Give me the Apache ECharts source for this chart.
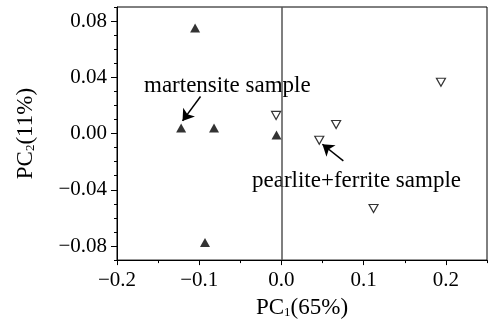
<!DOCTYPE html>
<html>
<head>
<meta charset="utf-8">
<script src="https://cdn.jsdelivr.net/npm/echarts@6/dist/echarts.min.js"></script>
<style>
  html, body { margin: 0; padding: 0; background: #fff; }
  #chart { width: 489px; height: 324px; }
</style>
</head>
<body>
<div id="chart"></div>
<script>
// martensite samples (filled up-triangles)
const martX = [-0.105, -0.122, -0.082, -0.093, -0.006];
const martY = [0.075, 0.004, 0.004, -0.0775, -0.001];
// pearlite+ferrite samples (open down-triangles)
const pfX = [-0.0065, 0.0665, 0.046, 0.194, 0.112];
const pfY = [0.0129, 0.0064, -0.0048, 0.0365, -0.0533];

const xTicks = [-0.2, -0.1, 0.0, 0.1, 0.2];
const yTicks = [-0.08, -0.04, 0.0, 0.04, 0.08];

// annotation arrows, tail -> head, in data units
const martArrow = [[-0.0984, 0.0263], [-0.1203, 0.009]];
const pfArrow = [[0.0753, -0.0194], [0.0498, -0.0076]];

const font = 'Liberation Serif';
const fmt = (d) => (v) => (v < 0 ? '\u2212' : '') + Math.abs(v).toFixed(d);

const zip = (xs, ys) => xs.map((x, i) => [x, ys[i]]);

const chart = echarts.init(document.getElementById('chart'));
chart.setOption({
  animation: false,
  grid: {
    left: 117, right: 2, top: 7, bottom: 58,
    show: true, borderColor: '#000', borderWidth: 1
  },
  xAxis: [
    {
      type: 'value', min: -0.2, max: 0.25,
      name: '{a|PC}{s|1}{a|(65%)}',
      nameLocation: 'middle', nameGap: 30,
      nameTextStyle: {
        rich: {
          a: { fontFamily: font, fontSize: 23, color: '#000', verticalAlign: 'bottom' },
          s: { fontFamily: font, fontSize: 13, color: '#000', verticalAlign: 'bottom' }
        }
      },
      axisLine: { show: true, onZero: false, lineStyle: { color: '#000', width: 1 } },
      axisTick: { show: true, length: 5, customValues: xTicks, lineStyle: { color: '#000' } },
      axisLabel: {
        customValues: xTicks, formatter: fmt(1), margin: 10,
        fontFamily: font, fontSize: 21, color: '#000'
      },
      splitLine: { show: false }
    },
    {
      type: 'value', min: -0.2, max: 0.25, interval: 0.05, position: 'bottom',
      axisLine: { show: false, onZero: false },
      axisTick: { show: true, length: 3, lineStyle: { color: '#000' } },
      axisLabel: { show: false },
      splitLine: { show: false }
    }
  ],
  yAxis: [
    {
      type: 'value', min: -0.09, max: 0.09,
      name: '{a|PC}{s|2}{a|(11%)}',
      nameLocation: 'middle', nameGap: 80,
      nameTextStyle: {
        rich: {
          a: { fontFamily: font, fontSize: 23, color: '#000', verticalAlign: 'bottom' },
          s: { fontFamily: font, fontSize: 13, color: '#000', verticalAlign: 'bottom' }
        }
      },
      axisLine: { show: true, onZero: false, lineStyle: { color: '#000', width: 1 } },
      axisTick: { show: true, length: 6, customValues: yTicks, lineStyle: { color: '#000' } },
      axisLabel: {
        customValues: yTicks, formatter: fmt(2), margin: 10,
        fontFamily: font, fontSize: 21, color: '#000'
      },
      splitLine: { show: false }
    },
    {
      type: 'value', min: -0.09, max: 0.09, interval: 0.01, position: 'left',
      axisLine: { show: false, onZero: false },
      axisTick: { show: true, length: 3, lineStyle: { color: '#000' } },
      axisLabel: { show: false },
      splitLine: { show: false }
    }
  ],
  series: [
    {
      name: 'martensite sample',
      type: 'scatter',
      data: zip(martX, martY),
      symbol: 'triangle',
      symbolSize: [10, 9],
      itemStyle: { color: '#000' },
      z: 5,
      markLine: {
        silent: true,
        symbol: ['none', 'none'],
        label: { show: false },
        lineStyle: { color: '#555', width: 1.5, type: 'solid' },
        data: [{ xAxis: 0 }]
      }
    },
    {
      name: 'pearlite+ferrite sample',
      type: 'scatter',
      data: zip(pfX, pfY),
      symbol: 'triangle',
      symbolRotate: 180,
      symbolSize: [9, 8],
      itemStyle: { color: '#fff', borderColor: '#000', borderWidth: 1.2 },
      z: 5,
      markLine: {
        silent: true,
        symbol: ['none', 'arrow'],
        symbolSize: 11,
        label: { show: false },
        lineStyle: { color: '#000', width: 1.5, type: 'solid' },
        data: [
          [{ coord: martArrow[0] }, { coord: martArrow[1] }],
          [{ coord: pfArrow[0] }, { coord: pfArrow[1] }]
        ]
      }
    }
  ],
  graphic: [
    {
      type: 'text', left: 144, top: 74,
      style: { text: 'martensite sample', font: '23px "Liberation Serif"', fill: '#000' }
    },
    {
      type: 'text', left: 252, top: 169,
      style: { text: 'pearlite+ferrite sample', font: '23px "Liberation Serif"', fill: '#000' }
    }
  ]
});
</script>
</body>
</html>
